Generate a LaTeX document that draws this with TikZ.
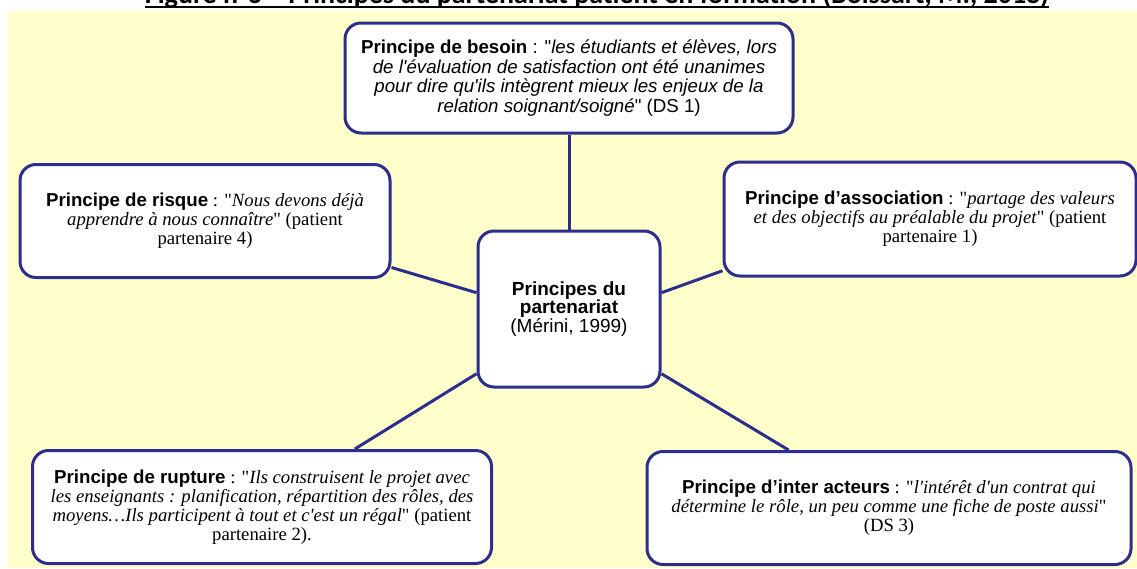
\documentclass[tikz,border=0pt]{standalone}
\usepackage{fontspec}
\setmainfont{Liberation Serif}[Ligatures=TeXOff]
\setsansfont{Liberation Sans}[Ligatures=TeXOff]
\newfontfamily\titrefont{Carlito}
\definecolor{fond}{RGB}{255,255,204}
\definecolor{bleu}{RGB}{45,45,140}
\newcommand{\principe}[1]{{\sffamily\bfseries #1}}
\tikzset{
  boite/.style={draw=bleu, line width=3pt, rounded corners=16pt, fill=white,
    align=center, inner sep=0pt, font=\fontsize{18.7}{19}\selectfont},
  lien/.style={draw=bleu, line width=3pt}
}
\begin{document}
\begin{tikzpicture}[x=1pt, y=-1pt]
    \useasboundingbox (0,0) rectangle (1137,568);
    % Fond jaune
    \fill[fond] (8,11) rectangle (1137,568);

    % Titre (coupe en haut)
    \node[font=\titrefont\bfseries\fontsize{28}{30}\selectfont, anchor=base, inner sep=0pt] (titre) at (597,3)
        {Figure n°3 – Principes du partenariat patient en formation (Boissart, M., 2018)};
    \draw[line width=1.5pt] ([yshift=-4pt]titre.base west) -- ([yshift=-4pt]titre.base east);

    % Noeud central
    \node[boite, minimum width=182pt, minimum height=156pt, font=\sffamily\fontsize{19}{18.5}\selectfont] (centre) at (569,309)
        {\textbf{Principes du}\\ \textbf{partenariat}\\ (Mérini, 1999)};

    % Les cinq principes
    \node[boite, minimum width=448pt, minimum height=110pt, font=\sffamily\fontsize{18.7}{19.5}\selectfont] (besoin) at (569,78)
        {\textbf{Principe de besoin} : "\textit{les étudiants et élèves, lors}\\
         \textit{de l'évaluation de satisfaction ont été unanimes}\\
         \textit{pour dire qu'ils intègrent mieux les enjeux de la}\\
         \textit{relation soignant/soigné}" (DS 1)};
    \node[boite, minimum width=370pt, minimum height=113pt] (risque) at (205,221)
        {\principe{Principe de risque} : "\textit{Nous devons déjà}\\
         \textit{apprendre à nous connaître}" (patient\\
         partenaire 4)};
    \node[boite, minimum width=412pt, minimum height=114pt] (association) at (930,219)
        {\principe{Principe d’association} : "\textit{partage des valeurs}\\
         \textit{et des objectifs au préalable du projet}" (patient\\
         partenaire 1)};
    \node[boite, minimum width=459pt, minimum height=113pt] (rupture) at (262,507)
        {\principe{Principe de rupture} : "\textit{Ils construisent le projet avec}\\
         \textit{les enseignants : planification, répartition des rôles, des}\\
         \textit{moyens…Ils participent à tout et c'est un régal}" (patient\\
         partenaire 2).};
    \node[boite, minimum width=484pt, minimum height=113pt] (inter) at (889,508)
        {\principe{Principe d’inter acteurs} : "\textit{l'intérêt d'un contrat qui}\\
         \textit{détermine le rôle, un peu comme une fiche de poste aussi}"\\
         (DS 3)};

    % Liens vers le centre
    \draw[lien] (besoin.south) -- (centre.north);
    \draw[lien] (risque.-14) -- (centre.170);
    \draw[lien] (association.194) -- (centre.10);
    \draw[lien] (rupture.32) -- (centre.215);
    \draw[lien] (inter.150) -- (centre.-35);
\end{tikzpicture}
\end{document}
